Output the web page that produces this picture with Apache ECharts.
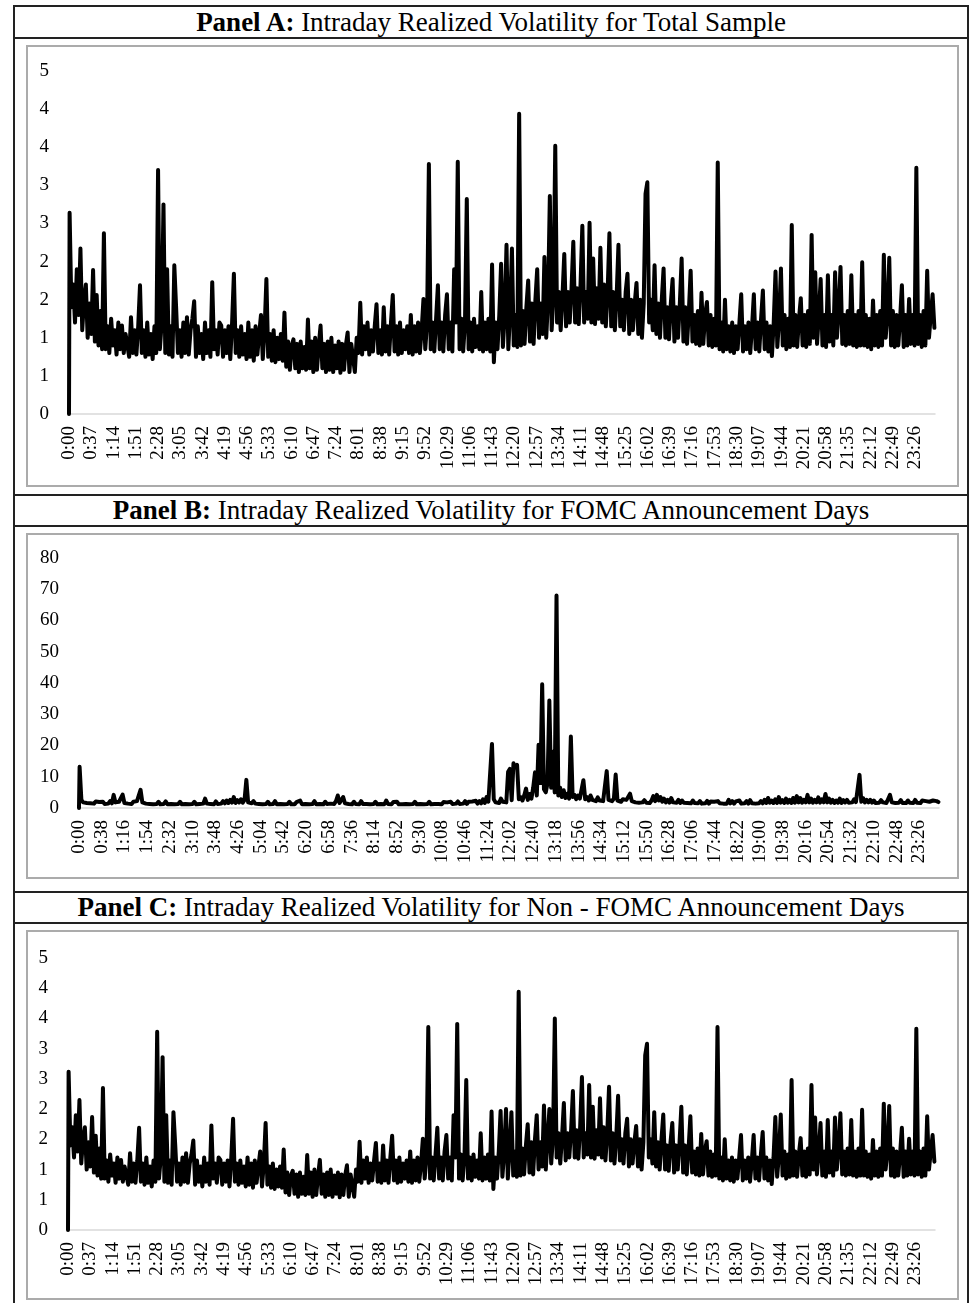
<!DOCTYPE html>
<html>
<head>
<meta charset="utf-8">
<script src="https://cdn.jsdelivr.net/npm/echarts@6/dist/echarts.min.js"></script>
<style>
  html, body { margin: 0; padding: 0; background: #fff; }
  body { width: 970px; height: 1303px; position: relative; overflow: hidden; font-family: "Liberation Serif", "Times New Roman", serif; }
  .hl { position: absolute; left: 13px; width: 956px; height: 1.5px; background: #222; }
  .vl { position: absolute; top: 5px; width: 1.5px; height: 1300px; background: #222; }
  .title { position: absolute; left: 13px; width: 956px; text-align: center; font-size: 27px; line-height: 32px; color: #000; }
  .box { position: absolute; left: 26px; width: 929px; border: 2px solid #ababab; box-sizing: content-box; }
</style>
</head>
<body>
<div class="hl" style="top:5px"></div>
<div class="hl" style="top:37px"></div>
<div class="hl" style="top:494px"></div>
<div class="hl" style="top:525px"></div>
<div class="hl" style="top:891px"></div>
<div class="hl" style="top:922px"></div>
<div class="vl" style="left:13px"></div>
<div class="vl" style="left:967px"></div>

<div class="title" style="top:6px"><b>Panel A:</b> Intraday Realized Volatility for Total Sample</div>
<div class="title" style="top:494px"><b>Panel B:</b> Intraday Realized Volatility for FOMC Announcement Days</div>
<div class="title" style="top:891px"><b>Panel C:</b> Intraday Realized Volatility for Non - FOMC Announcement Days</div>

<div class="box" id="chartA" style="top:45px; height:438px;"></div>
<div class="box" id="chartB" style="top:533px; height:342px;"></div>
<div class="box" id="chartC" style="top:930px; height:366px;"></div>

<script>
// ---- Data: readings on a 3-minute grid (minute 0, then 0:01, 0:04, 0:07, ...), 20 readings per hour ----
const totalSample = [0,
  2.64, 1.4, 1.7, 1.2, 1.9, 1.3, 2.17, 1.1, 1.5, 1.7, 1.0, 1.45, 1.05, 1.89, 0.95, 1.56, 0.9, 1.35, 0.85, 2.37,        // 0h
  0.85, 1.15, 0.8, 1.25, 0.9, 1.1, 0.78, 1.2, 0.85, 1.16, 0.8, 1.05, 0.9, 0.75, 1.27, 0.8, 1.1, 0.78, 1.15, 1.69,      // 1h
  0.8, 1.1, 0.75, 1.2, 0.78, 1.05, 0.72, 1.15, 0.8, 3.2, 0.85, 1.2, 2.75, 0.8, 1.9, 0.78, 1.15, 0.75, 1.95, 1.4,       // 2h
  0.8, 1.1, 0.75, 1.2, 0.8, 1.27, 0.78, 1.1, 1.25, 1.48, 0.75, 1.15, 0.8, 1.05, 0.72, 1.2, 0.8, 1.1, 0.75, 1.73,       // 3h
  0.85, 1.1, 0.78, 1.2, 1.16, 0.75, 1.1, 0.8, 1.15, 0.72, 1.2, 1.84, 0.8, 1.1, 0.75, 1.15, 0.78, 1.05, 0.72, 1.2,      // 4h
  0.75, 1.1, 0.7, 1.15, 0.78, 1.05, 1.3, 0.72, 1.1, 1.77, 0.75, 1.05, 0.7, 1.1, 0.68, 1.0, 0.72, 1.05, 0.7, 1.33,      // 5h
  0.62, 0.95, 0.58, 0.9, 0.98, 0.6, 0.92, 0.55, 0.95, 0.6, 0.88, 0.58, 1.24, 0.6, 0.95, 0.55, 1.0, 0.58, 0.9, 1.16,    // 6h
  0.6, 0.92, 0.55, 0.95, 0.58, 1.0, 0.55, 0.9, 0.6, 0.95, 0.54, 0.92, 0.58, 0.9, 1.07, 0.55, 0.92, 0.9, 0.55, 1.0,     // 7h
  0.8, 1.46, 0.78, 1.15, 0.85, 1.2, 0.78, 1.1, 0.82, 1.15, 1.44, 0.8, 1.1, 0.78, 1.4, 0.82, 1.15, 0.78, 1.2, 1.56,     // 8h
  0.82, 1.15, 0.78, 1.2, 0.8, 1.1, 0.85, 1.15, 0.8, 1.3, 0.78, 1.15, 0.82, 1.2, 0.8, 1.1, 1.51, 0.85, 1.2, 3.28,       // 9h
  0.85, 1.2, 0.82, 1.25, 1.69, 0.85, 1.2, 0.82, 1.3, 1.57, 0.85, 1.2, 0.82, 1.9, 1.2, 3.31, 0.85, 1.25, 0.82, 1.2,     // 10h
  2.82, 0.85, 1.2, 0.82, 1.25, 0.88, 1.15, 0.85, 1.6, 0.82, 1.2, 0.85, 1.25, 0.82, 1.96, 0.68, 1.2, 0.85, 1.3, 1.97,   // 11h
  0.88, 1.3, 2.22, 0.85, 1.35, 2.17, 0.9, 1.3, 0.88, 3.94, 0.9, 1.35, 0.92, 1.4, 1.75, 0.95, 1.45, 0.92, 1.5, 1.9,     // 12h
  1.0, 1.45, 1.05, 2.06, 1.0, 1.5, 2.86, 1.1, 1.55, 3.52, 1.2, 1.6, 1.1, 1.55, 2.1, 1.15, 1.6, 1.2, 1.65, 2.26,        // 13h
  1.2, 1.65, 1.18, 1.7, 2.47, 1.2, 1.6, 1.25, 2.51, 1.2, 2.04, 1.18, 1.65, 1.25, 2.18, 1.2, 1.7, 1.15, 1.6, 2.37,      // 14h
  1.15, 1.6, 1.1, 1.55, 2.22, 1.15, 1.5, 1.1, 1.6, 1.84, 1.05, 1.5, 1.1, 1.45, 1.72, 1.05, 1.5, 1.0, 1.45, 2.89,       // 15h
  3.04, 1.2, 1.5, 1.1, 1.95, 1.05, 1.45, 1.0, 1.5, 1.91, 1.0, 1.4, 0.98, 1.45, 1.77, 0.95, 1.4, 1.0, 1.45, 2.04,       // 16h
  0.95, 1.4, 0.92, 1.35, 1.88, 0.95, 1.3, 0.92, 1.35, 0.9, 1.59, 0.92, 1.3, 1.47, 0.9, 1.3, 0.88, 1.25, 0.9, 3.3,      // 17h
  0.85, 1.2, 0.82, 1.5, 0.85, 1.15, 0.82, 1.2, 0.8, 1.15, 0.85, 1.2, 1.57, 0.82, 1.15, 0.85, 1.2, 0.8, 1.15, 1.57,     // 18h
  0.85, 1.2, 0.82, 1.25, 1.62, 0.85, 1.2, 0.82, 1.15, 0.76, 1.2, 1.87, 0.88, 1.25, 1.91, 0.9, 1.3, 0.85, 1.25, 0.88,   // 19h
  2.48, 0.9, 1.3, 0.88, 1.25, 1.52, 0.9, 1.3, 0.88, 1.35, 0.92, 2.35, 1.0, 1.86, 0.92, 1.3, 1.77, 0.9, 1.3, 0.88,      // 20h
  1.82, 0.95, 1.3, 0.9, 1.86, 1.0, 1.35, 1.93, 0.92, 1.3, 0.9, 1.35, 0.92, 1.82, 0.9, 1.3, 0.88, 1.35, 0.9, 1.99,      // 21h
  0.9, 1.3, 0.88, 1.25, 0.85, 1.49, 0.9, 1.3, 0.88, 1.35, 0.9, 2.09, 1.0, 1.3, 2.05, 0.9, 1.35, 0.88, 1.3, 0.9,        // 22h
  1.25, 1.69, 0.88, 1.3, 0.9, 1.51, 0.92, 1.3, 0.9, 3.23, 0.92, 1.3, 0.88, 1.35, 0.9, 1.88, 1.0, 1.3, 1.57, 1.13       // 23h
];

const fomcDays = [0,
  13.2, 2.6, 1.8, 2.4, 1.6, 2.2, 1.5, 2.0, 1.4, 2.1, 1.5, 1.9, 1.4, 2.0, 1.3, 1.9, 1.4, 2.2, 1.5, 4.2,    // 0h
  1.8, 1.4, 2.0, 1.5, 4.3, 1.6, 2.2, 1.4, 1.9, 1.3, 2.0, 1.5, 2.2, 2.6, 5.8, 1.8, 2.2, 1.4, 1.9, 1.3,     // 1h
  1.9, 1.2, 1.8, 1.3, 2.0, 1.2, 1.7, 1.3, 2.1, 1.2, 1.8, 1.3, 1.9, 1.2, 1.7, 1.3, 2.0, 1.2, 1.8, 1.3,     // 2h
  1.9, 1.2, 1.8, 1.3, 2.0, 1.2, 1.7, 1.3, 1.9, 1.4, 3.0, 1.4, 2.0, 1.3, 1.8, 1.2, 2.1, 1.3, 1.9, 1.4,     // 3h
  2.2, 1.5, 2.4, 1.6, 2.6, 1.7, 3.5, 1.6, 2.5, 1.8, 2.8, 1.7, 2.6, 9.0, 1.8, 2.4, 1.5, 2.2, 1.4, 2.0,     // 4h
  1.3, 1.9, 1.2, 1.8, 1.3, 2.0, 1.2, 1.7, 1.3, 2.2, 1.2, 1.8, 1.3, 1.9, 1.2, 1.7, 1.3, 2.0, 1.2, 1.8,     // 5h
  1.2, 1.9, 1.3, 2.4, 1.2, 1.8, 1.3, 1.9, 1.2, 1.7, 1.3, 2.2, 1.2, 1.8, 1.3, 1.9, 1.2, 2.0, 1.3, 1.8,     // 6h
  1.4, 2.0, 1.3, 2.2, 4.0, 1.6, 2.2, 3.5, 1.5, 2.0, 1.3, 1.9, 1.2, 2.0, 1.3, 1.8, 1.2, 2.2, 1.3, 1.9,     // 7h
  1.3, 1.9, 1.2, 1.8, 1.3, 2.0, 1.2, 1.7, 1.3, 1.9, 1.2, 2.4, 1.3, 1.8, 1.2, 1.9, 1.3, 2.0, 1.2, 1.8,     // 8h
  1.2, 1.8, 1.3, 1.9, 1.2, 1.7, 1.3, 2.0, 1.2, 1.8, 1.3, 1.9, 1.2, 1.7, 1.3, 2.0, 1.2, 1.8, 1.3, 1.9,     // 9h
  1.3, 1.7, 1.2, 1.9, 1.3, 1.8, 1.2, 2.0, 1.3, 1.8, 1.4, 2.1, 1.3, 1.9, 1.4, 2.2, 1.3, 2.0, 1.4, 2.1,     // 10h
  1.5, 2.3, 1.4, 2.2, 1.5, 2.8, 1.6, 3.5, 2.0, 2.6, 20.5, 2.8, 1.8, 2.4, 1.6, 3.0, 2.0, 2.6, 1.8, 11.6,  // 11h
  12.5, 2.5, 14.3, 13.0, 13.8, 2.8, 3.5, 2.4, 4.0, 6.2, 2.6, 4.5, 3.0, 6.5, 11.4, 4.0, 20.2, 8.0, 39.6, 6.0, // 12h
  5.0, 8.0, 34.4, 6.5, 18.0, 5.0, 68.0, 4.0, 6.5, 3.5, 5.7, 3.2, 4.5, 3.0, 22.9, 3.5, 4.2, 2.8, 4.0, 3.0, // 13h
  3.6, 8.9, 2.8, 3.5, 2.4, 4.0, 2.6, 3.2, 2.2, 3.4, 2.4, 3.0, 2.2, 2.8, 11.8, 2.6, 3.2, 2.2, 3.0, 10.7,   // 14h
  2.4, 3.0, 2.0, 2.8, 2.2, 2.6, 2.0, 4.6, 2.2, 2.6, 1.8, 2.4, 1.7, 2.2, 1.8, 2.5, 1.7, 2.2, 1.6, 2.4,     // 15h
  3.8, 2.2, 4.2, 2.4, 3.5, 2.0, 3.0, 1.8, 2.6, 1.7, 3.2, 1.8, 2.4, 1.7, 2.6, 1.6, 2.4, 1.7, 2.2, 1.6,     // 16h
  2.2, 1.5, 2.4, 1.6, 2.0, 1.5, 2.2, 1.4, 2.0, 1.5, 2.3, 1.4, 2.1, 1.5, 2.0, 1.4, 2.2, 1.5, 2.0, 1.4,     // 17h
  2.0, 1.4, 2.6, 1.5, 2.2, 1.4, 2.1, 1.5, 2.4, 1.4, 2.0, 1.5, 2.2, 1.4, 2.5, 1.5, 2.1, 1.4, 2.0, 1.5,     // 18h
  2.2, 1.5, 2.6, 1.6, 3.2, 1.7, 2.4, 1.6, 2.8, 1.6, 3.5, 1.7, 2.5, 1.6, 3.0, 1.7, 2.6, 1.6, 3.2, 1.7,     // 19h
  3.8, 1.8, 3.2, 1.7, 2.6, 1.8, 4.2, 1.8, 3.0, 1.7, 2.6, 1.8, 3.4, 1.7, 2.8, 1.8, 4.5, 1.8, 3.0, 1.7,     // 20h
  2.6, 1.6, 2.4, 1.7, 3.0, 1.6, 2.5, 1.8, 2.6, 1.7, 2.2, 1.8, 2.8, 1.9, 2.4, 10.6, 2.0, 3.2, 1.8, 2.6,    // 21h
  1.8, 2.6, 1.7, 2.4, 1.6, 2.2, 1.7, 2.5, 1.8, 2.3, 1.6, 2.2, 4.2, 1.8, 2.4, 1.6, 2.2, 1.7, 2.5, 1.6,     // 22h
  2.2, 1.6, 2.4, 1.7, 2.0, 1.6, 2.6, 1.7, 2.2, 1.6, 2.4, 1.8, 2.2, 1.7, 2.0, 1.6, 2.4, 1.8, 2.2, 1.9      // 23h
];

const nonFomcDays = [0,
  2.62, 1.4, 1.7, 1.2, 1.9, 1.3, 2.15, 1.1, 1.5, 1.7, 1.0, 1.45, 1.05, 1.87, 0.95, 1.56, 0.9, 1.35, 0.85, 2.35,       // 0h
  0.85, 1.15, 0.8, 1.25, 0.9, 1.1, 0.78, 1.2, 0.85, 1.16, 0.8, 1.05, 0.9, 0.75, 1.27, 0.8, 1.1, 0.78, 1.15, 1.69,      // 1h
  0.8, 1.1, 0.75, 1.2, 0.78, 1.05, 0.72, 1.15, 0.8, 3.28, 0.85, 1.2, 2.86, 0.8, 1.9, 0.78, 1.15, 0.75, 1.95, 1.4,      // 2h
  0.8, 1.1, 0.75, 1.2, 0.8, 1.27, 0.78, 1.1, 1.25, 1.48, 0.75, 1.15, 0.8, 1.05, 0.72, 1.2, 0.8, 1.1, 0.75, 1.73,       // 3h
  0.85, 1.1, 0.78, 1.2, 1.16, 0.75, 1.1, 0.8, 1.15, 0.72, 1.2, 1.84, 0.8, 1.1, 0.75, 1.15, 0.78, 1.05, 0.72, 1.2,      // 4h
  0.75, 1.1, 0.7, 1.15, 0.78, 1.05, 1.3, 0.72, 1.1, 1.77, 0.75, 1.05, 0.7, 1.1, 0.68, 1.0, 0.72, 1.05, 0.7, 1.33,      // 5h
  0.62, 0.95, 0.58, 0.9, 0.98, 0.6, 0.92, 0.55, 0.95, 0.6, 0.88, 0.58, 1.24, 0.6, 0.95, 0.55, 1.0, 0.58, 0.9, 1.16,    // 6h
  0.6, 0.92, 0.55, 0.95, 0.58, 1.0, 0.55, 0.9, 0.6, 0.95, 0.54, 0.92, 0.58, 0.9, 1.07, 0.55, 0.92, 0.9, 0.55, 1.0,     // 7h
  0.8, 1.46, 0.78, 1.15, 0.85, 1.2, 0.78, 1.1, 0.82, 1.15, 1.44, 0.8, 1.1, 0.78, 1.4, 0.82, 1.15, 0.78, 1.2, 1.56,     // 8h
  0.82, 1.15, 0.78, 1.2, 0.8, 1.1, 0.85, 1.15, 0.8, 1.3, 0.78, 1.15, 0.82, 1.2, 0.8, 1.1, 1.51, 0.85, 1.2, 3.36,       // 9h
  0.85, 1.2, 0.82, 1.25, 1.69, 0.85, 1.2, 0.82, 1.3, 1.57, 0.85, 1.2, 0.82, 1.9, 1.2, 3.41, 0.85, 1.25, 0.82, 1.2,     // 10h
  2.48, 0.85, 1.2, 0.82, 1.25, 0.88, 1.15, 0.85, 1.6, 0.82, 1.2, 0.85, 1.25, 0.82, 1.96, 0.68, 1.2, 0.85, 1.3, 1.97,   // 11h
  0.88, 1.3, 2.0, 0.85, 1.35, 1.95, 0.9, 1.3, 0.88, 3.94, 0.9, 1.35, 0.92, 1.4, 1.75, 0.95, 1.45, 0.92, 1.5, 1.9,      // 12h
  1.0, 1.45, 1.05, 2.06, 1.0, 1.5, 2.0, 1.1, 1.55, 3.5, 1.2, 1.6, 1.1, 1.55, 2.1, 1.15, 1.6, 1.2, 1.65, 2.3,           // 13h
  1.2, 1.65, 1.18, 1.7, 2.53, 1.2, 1.6, 1.25, 2.4, 1.2, 2.04, 1.18, 1.65, 1.25, 2.18, 1.2, 1.7, 1.15, 1.6, 2.37,       // 14h
  1.15, 1.6, 1.1, 1.55, 2.22, 1.15, 1.5, 1.1, 1.6, 1.84, 1.05, 1.5, 1.1, 1.45, 1.72, 1.05, 1.5, 1.0, 1.45, 2.89,       // 15h
  3.08, 1.2, 1.5, 1.1, 1.95, 1.05, 1.45, 1.0, 1.5, 1.91, 1.0, 1.4, 0.98, 1.45, 1.77, 0.95, 1.4, 1.0, 1.45, 2.04,       // 16h
  0.95, 1.4, 0.92, 1.35, 1.88, 0.95, 1.3, 0.92, 1.35, 0.9, 1.59, 0.92, 1.3, 1.47, 0.9, 1.3, 0.88, 1.25, 0.9, 3.36,     // 17h
  0.85, 1.2, 0.82, 1.5, 0.85, 1.15, 0.82, 1.2, 0.8, 1.15, 0.85, 1.2, 1.57, 0.82, 1.15, 0.85, 1.2, 0.8, 1.15, 1.57,     // 18h
  0.85, 1.2, 0.82, 1.25, 1.62, 0.85, 1.2, 0.82, 1.15, 0.76, 1.2, 1.87, 0.88, 1.25, 1.91, 0.9, 1.3, 0.85, 1.25, 0.88,   // 19h
  2.48, 0.9, 1.3, 0.88, 1.25, 1.52, 0.9, 1.3, 0.88, 1.35, 0.92, 2.4, 1.0, 1.86, 0.92, 1.3, 1.77, 0.9, 1.3, 0.88,       // 20h
  1.82, 0.95, 1.3, 0.9, 1.86, 1.0, 1.35, 1.93, 0.92, 1.3, 0.9, 1.35, 0.92, 1.82, 0.9, 1.3, 0.88, 1.35, 0.9, 1.99,      // 21h
  0.9, 1.3, 0.88, 1.25, 0.85, 1.49, 0.9, 1.3, 0.88, 1.35, 0.9, 2.09, 1.0, 1.3, 2.05, 0.9, 1.35, 0.88, 1.3, 0.9,        // 22h
  1.25, 1.69, 0.88, 1.3, 0.9, 1.51, 0.92, 1.3, 0.9, 3.33, 0.92, 1.3, 0.88, 1.35, 0.9, 1.88, 1.0, 1.3, 1.57, 1.13       // 23h
];

// minute of day of each reading
function sampleMinute(i) { return i === 0 ? 0 : Math.min(1 + 3 * (i - 1), 1439); }

// Category labels: every minute of the day
const minuteLabels = [];
for (let m = 0; m < 1440; m++) {
  minuteLabels.push(Math.floor(m / 60) + ':' + String(m % 60).padStart(2, '0'));
}

const FONT = '"Liberation Serif", "Times New Roman", serif';

function build(id, values, yMax, yInterval, labelEvery, grid, roundLabels) {
  const chart = echarts.init(document.getElementById(id), null, { renderer: 'canvas' });
  chart.setOption({
    animation: false,
    grid: grid,
    xAxis: {
      type: 'category',
      data: minuteLabels,
      boundaryGap: false,
      axisLine: { show: true, lineStyle: { color: '#d9d9d9', width: 1.5 } },
      axisTick: { show: false },
      axisLabel: {
        interval: labelEvery - 1,
        rotate: 90,
        margin: 12,
        color: '#000',
        fontFamily: FONT,
        fontSize: 19
      },
      splitLine: { show: false }
    },
    yAxis: {
      type: 'value',
      min: 0,
      max: yMax,
      interval: yInterval,
      axisLine: { show: false },
      axisTick: { show: false },
      splitLine: { show: false },
      axisLabel: {
        margin: 20,
        color: '#000',
        fontFamily: FONT,
        fontSize: 19,
        formatter: v => roundLabels ? String(Math.round(v)) : String(v)
      }
    },
    series: [{
      type: 'line',
      data: values.map((v, i) => [sampleMinute(i), v]),
      showSymbol: false,
      symbol: 'none',
      sampling: false,
      lineStyle: { color: '#000', width: 4, cap: 'round', join: 'round' },
      emphasis: { disabled: true }
    }]
  });
}

build('chartA', totalSample, 4.5, 0.5, 37, { left: 41, right: 22, top: 24, bottom: 71 }, true);
build('chartB', fomcDays, 80, 10, 38, { left: 51, right: 18, top: 23, bottom: 69 }, false);
build('chartC', nonFomcDays, 4.5, 0.5, 37, { left: 40, right: 22, top: 26, bottom: 68 }, true);
</script>
</body>
</html>
